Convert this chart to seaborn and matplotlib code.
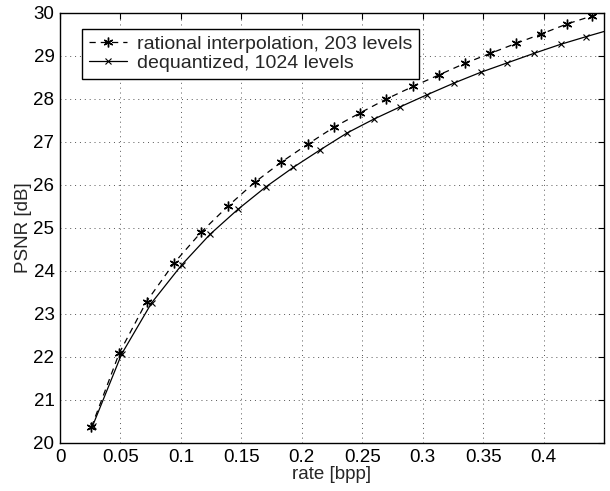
import matplotlib
matplotlib.use("Agg")
import matplotlib.pyplot as plt
import seaborn as sns

# rational interpolation, 203 levels
rate_rat = [0.026, 0.049, 0.0716, 0.0945, 0.117, 0.139, 0.161, 0.183, 0.205, 0.227,
            0.2485, 0.270, 0.292, 0.3135, 0.335, 0.356, 0.377, 0.398, 0.419, 0.440]
psnr_rat = [20.37, 22.09, 23.29, 24.19, 24.91, 25.51, 26.06, 26.53, 26.95, 27.35,
            27.68, 28.00, 28.29, 28.56, 28.83, 29.06, 29.29, 29.51, 29.74, 29.93]

# dequantized, 1024 levels
rate_deq = [0.027, 0.051, 0.0758, 0.1006, 0.124, 0.147, 0.170, 0.193, 0.2154, 0.2375,
            0.2595, 0.2816, 0.3038, 0.3259, 0.348, 0.370, 0.392, 0.414, 0.4353, 0.4575]
psnr_deq = [20.40, 22.07, 23.26, 24.14, 24.85, 25.43, 25.95, 26.41, 26.82, 27.21,
            27.53, 27.82, 28.10, 28.37, 28.62, 28.84, 29.06, 29.27, 29.45, 29.63]

x_ticks = [0, 0.05, 0.1, 0.15, 0.2, 0.25, 0.3, 0.35, 0.4]
x_labels = ["0", "0.05", "0.1", "0.15", "0.2", "0.25", "0.3", "0.35", "0.4"]
y_ticks = list(range(20, 31))

sns.set_style("white")
plt.rcParams["font.family"] = ["Liberation Sans", "DejaVu Sans"]

fig = plt.figure(figsize=(6.1, 4.91), dpi=100)
ax = fig.add_axes([0.0984, 0.0978, 0.8918, 0.8758])

# matlab style asterisk: 6 spoke marker
sns.lineplot(x=rate_rat, y=psnr_rat, ax=ax, color="black", linestyle=(0, (5, 4)),
             linewidth=0.9, marker=(6, 2, 0), markersize=7, markeredgewidth=1.0,
             markeredgecolor="black",
             label="rational interpolation, 203 levels")
sns.lineplot(x=rate_deq, y=psnr_deq, ax=ax, color="black", linestyle="-",
             linewidth=0.9, marker="x", markersize=5, markeredgewidth=0.8,
             markeredgecolor="black",
             label="dequantized, 1024 levels")

ax.set_xlim(0, 0.45)
ax.set_ylim(20, 30)
ax.set_xticks(x_ticks)
ax.set_xticklabels(x_labels)
ax.set_yticks(y_ticks)
ax.tick_params(direction="in", top=True, right=True, length=4, width=0.8,
               labelsize=13.5, colors="black", pad=4)
ax.grid(True, linestyle=(0, (1, 4)), color="#555555", linewidth=0.7)
for s in ax.spines.values():
    s.set_color("black")
    s.set_linewidth(1.0)

ax.set_xlabel("rate [bpp]", fontsize=13.5, labelpad=0)
ax.set_ylabel("PSNR [dB]", fontsize=13.5, labelpad=1)

leg = ax.legend(loc="upper left", bbox_to_anchor=(0.040, 0.963), borderaxespad=0,
                fontsize=14, fancybox=False, framealpha=1, edgecolor="black",
                handlelength=2.0, borderpad=0.35, labelspacing=0.05,
                handletextpad=0.5)
leg.get_frame().set_linewidth(1.0)

fig.savefig("out.png", dpi=100)
